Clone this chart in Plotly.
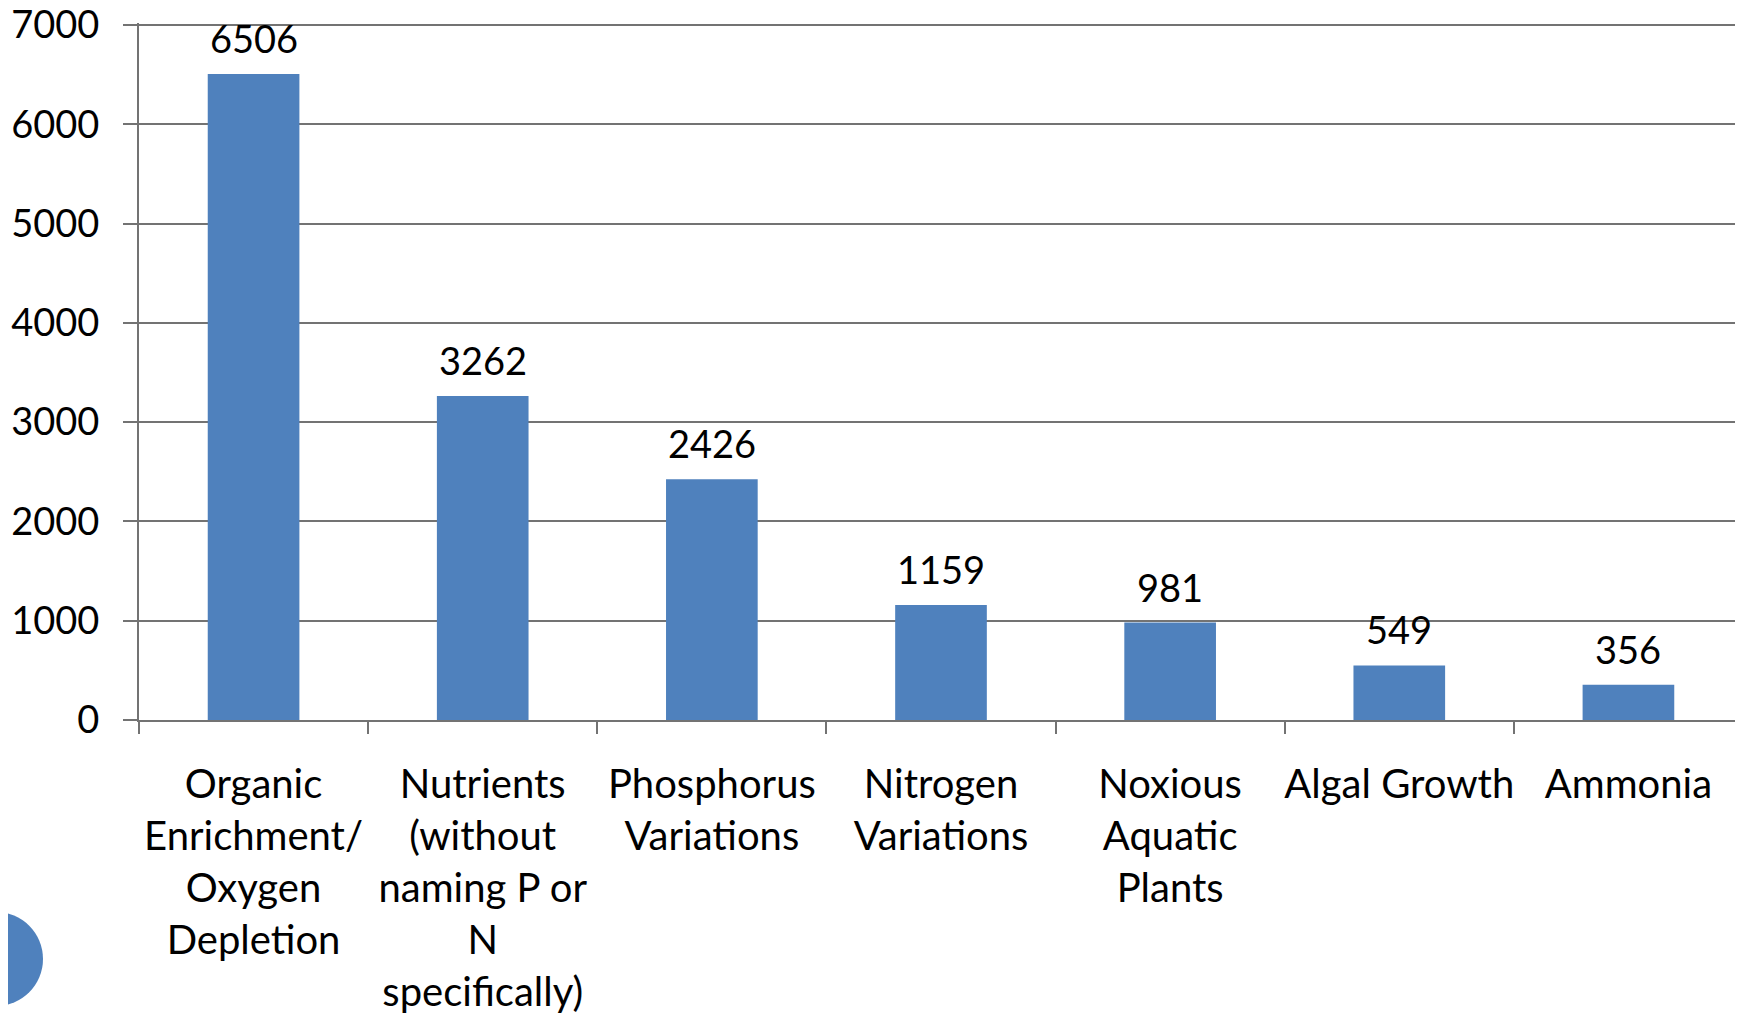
import plotly.graph_objects as go

categories = [
    "Organic<br>Enrichment/<br>Oxygen<br>Depletion",
    "Nutrients<br>(without<br>naming P or<br>N<br>specifically)",
    "Phosphorus<br>Variations",
    "Nitrogen<br>Variations",
    "Noxious<br>Aquatic<br>Plants",
    "Algal Growth",
    "Ammonia",
]
values = [6506, 3262, 2426, 1159, 981, 549, 356]
y_ticks = [0, 1000, 2000, 3000, 4000, 5000, 6000, 7000]

FONT = "Lato, 'Open Sans', sans-serif"
GRAY = "#737373"
BLUE = "#4F81BD"

# page body adds an 8px offset; compensate so the picture lands on the reference
OFF = 8
W, H = 1743 - OFF, 1016 - OFF
ML, MR, MT, MB = 139 - OFF, 0, 15, 1016 - 720
plot_w = W - ML - MR
plot_h = H - MT - MB

fig = go.Figure()
fig.add_trace(go.Bar(
    x=categories, y=values, marker=dict(color=BLUE, line=dict(width=0)),
    width=0.4, hoverinfo="x+y",
))

for c, v in zip(categories, values):
    fig.add_annotation(x=c, y=v, text=str(v), showarrow=False,
                       yanchor="middle", yshift=36,
                       font=dict(family=FONT, size=38, color="black"))

# decorative circle at lower left
fig.add_shape(type="circle", xref="paper", yref="paper",
              xsizemode="pixel", ysizemode="pixel",
              xanchor=(-4 - OFF - ML) / plot_w,
              yanchor=((H - MB) - (959 - OFF)) / plot_h,
              x0=-47, x1=47, y0=-47, y1=47,
              fillcolor=BLUE, line=dict(width=0))

fig.update_layout(
    width=W, height=H,
    margin=dict(l=ML, r=MR, t=MT, b=MB, pad=0),
    paper_bgcolor="white", plot_bgcolor="white",
    showlegend=False, bargap=0.6,
    font=dict(family=FONT, size=38, color="black"),
)
fig.update_xaxes(
    type="category", showline=True, linecolor=GRAY, linewidth=2,
    ticks="outside", tickson="boundaries", ticklen=12, tickcolor=GRAY, tickwidth=2,
    ticklabelstandoff=28, showgrid=False, automargin=False, tickangle=0,
    tickfont=dict(family=FONT, size=40, color="black"),
)
fig.update_yaxes(
    range=[0, 7020], tickvals=y_ticks, ticktext=[str(t) for t in y_ticks],
    showline=True, linecolor=GRAY, linewidth=2,
    ticks="outside", ticklen=14, tickcolor=GRAY, tickwidth=2,
    showgrid=True, gridcolor=GRAY, gridwidth=2, zeroline=False,
    ticklabelstandoff=16, automargin=False, ticklabeloverflow="allow",
    tickfont=dict(family=FONT, size=38, color="black"),
)

fig.write_html("out.html")
